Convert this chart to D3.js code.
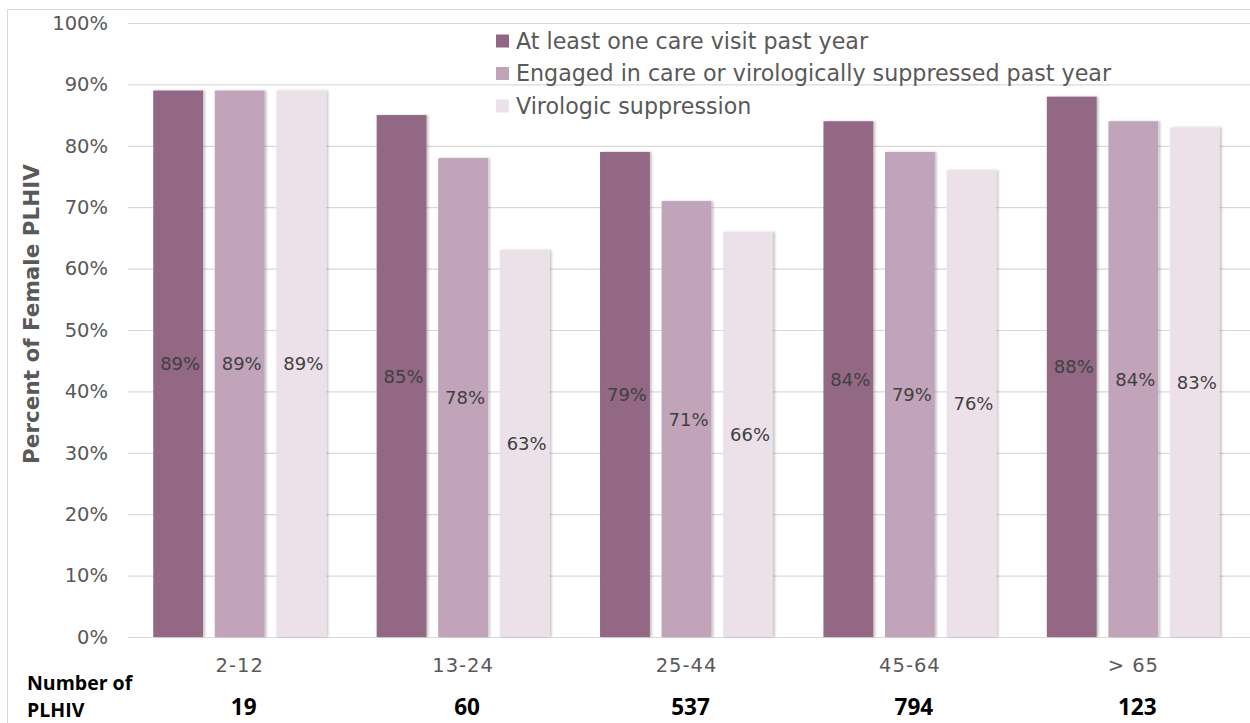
<!DOCTYPE html>
<html>
<head>
<meta charset="utf-8">
<script src="https://cdn.jsdelivr.net/npm/d3@7"></script>
<style>
  html, body { margin: 0; padding: 0; background: #fff; }
  svg { display: block; }
</style>
</head>
<body>
<svg id="chart" width="1250" height="723"></svg>
<script>
// Age groups along the x axis
const categories = ["2-12", "13-24", "25-44", "45-64", "> 65"];
// Number of female PLHIV in each age group
const counts = [19, 60, 537, 794, 123];
// Series names (legend order)
const seriesNames = [
  "At least one care visit past year",
  "Engaged in care or virologically suppressed past year",
  "Virologic suppression"
];
// Percent values per series, one per age group
const careVisit = [89, 85, 79, 84, 88];
const engaged = [89, 78, 71, 79, 84];
const suppression = [89, 63, 66, 76, 83];
const seriesValues = [careVisit, engaged, suppression];
// Y axis ticks
const yTicks = [0, 10, 20, 30, 40, 50, 60, 70, 80, 90, 100];

const colors = ["#926785", "#c1a4b9", "#ece1e9"];
const tickFont = "'DejaVu Sans', sans-serif";
const boldFont = "'Open Sans', 'Liberation Sans', sans-serif";

const svg = d3.select("#chart");

// Thin frame around the chart area
svg.append("rect")
  .attr("x", 7.5).attr("y", 9.5)
  .attr("width", 1250).attr("height", 760)
  .attr("fill", "none").attr("stroke", "#d9d9d9");

const plot = { left: 128, right: 1245, top: 23, bottom: 637, gridEnd: 1250 };

const y = d3.scaleLinear().domain([0, 100]).range([plot.bottom, plot.top]);
const x0 = d3.scaleBand().domain(categories).range([plot.left, plot.right]).padding(0);
const x1 = d3.scaleBand().domain(d3.range(seriesNames.length))
  .range([0, x0.bandwidth()]).paddingInner(0.19).paddingOuter(0.41);

// Drop shadow on the bars
const defs = svg.append("defs");
const f = defs.append("filter").attr("id", "shadow")
  .attr("x", "-20%").attr("y", "-5%").attr("width", "140%").attr("height", "110%");
f.append("feDropShadow").attr("dx", 2).attr("dy", 0)
  .attr("stdDeviation", 1.2).attr("flood-color", "#000").attr("flood-opacity", 0.22);

// Horizontal gridlines + y tick labels
const yAxis = d3.axisLeft(y).tickValues(yTicks)
  .tickSize(-(plot.gridEnd - plot.left)).tickPadding(20)
  .tickFormat(d => d + "%");
const gy = svg.append("g").attr("transform", `translate(${plot.left},0)`).call(yAxis);
gy.select(".domain").remove();
gy.selectAll(".tick line").attr("stroke", "#d9d9d9").attr("stroke-width", 1.2);
gy.selectAll(".tick text")
  .attr("fill", "#595959").attr("font-family", tickFont).attr("font-size", 19.5);

// Legend (drawn before bars, no background)
const legend = svg.append("g");
seriesNames.forEach((name, i) => {
  const ly = 41 + i * 32.5;
  legend.append("rect").attr("x", 496).attr("y", ly - 6.5)
    .attr("width", 13).attr("height", 13).attr("fill", colors[i]);
  legend.append("text").attr("x", 516).attr("y", ly)
    .attr("dy", "0.36em").attr("fill", "#595959")
    .attr("font-family", tickFont).attr("font-size", 22.2)
    .text(name);
});

// Bars
const groups = svg.append("g").selectAll("g")
  .data(categories).join("g")
  .attr("transform", d => `translate(${x0(d)},0)`);

groups.selectAll("rect")
  .data((d, ci) => seriesValues.map((vals, si) => ({ si, v: vals[ci] })))
  .join("rect")
  .attr("x", d => x1(d.si))
  .attr("width", x1.bandwidth())
  .attr("y", d => y(d.v))
  .attr("height", d => y(0) - y(d.v))
  .attr("fill", d => colors[d.si])
  .attr("filter", "url(#shadow)");

// Value labels, centred in each bar
groups.selectAll("text.val")
  .data((d, ci) => seriesValues.map((vals, si) => ({ si, v: vals[ci] })))
  .join("text").attr("class", "val")
  .attr("x", d => x1(d.si) + x1.bandwidth() / 2 + 2)
  .attr("y", d => (y(d.v) + y(0)) / 2)
  .attr("dy", "0.36em")
  .attr("text-anchor", "middle")
  .attr("fill", "#404040")
  .attr("font-family", tickFont).attr("font-size", 18)
  .text(d => d.v + "%");

// Category labels
const xAxis = d3.axisBottom(x0).tickSize(0).tickPadding(21);
const gx = svg.append("g").attr("transform", `translate(0,${plot.bottom})`).call(xAxis);
gx.select(".domain").remove();
gx.selectAll(".tick text")
  .attr("fill", "#595959").attr("font-family", tickFont).attr("font-size", 19.5)
  .attr("letter-spacing", 1);

// Y axis title
svg.append("text")
  .attr("transform", "translate(31,314) rotate(-90)")
  .attr("text-anchor", "middle").attr("dy", "0.36em")
  .attr("fill", "#595959").attr("font-family", tickFont)
  .attr("font-weight", "bold").attr("font-size", 21.5)
  .text("Percent of Female PLHIV");

// Counts row: two-line row heading, then one count per age group
const rowHead = svg.append("text").attr("x", 27).attr("y", 690)
  .attr("fill", "#000").attr("font-family", boldFont)
  .attr("font-weight", "bold").attr("font-size", 19.5);
rowHead.append("tspan").attr("x", 27).text("Number of");
rowHead.append("tspan").attr("x", 27).attr("dy", 27).text("PLHIV");

svg.append("g").selectAll("text")
  .data(categories).join("text")
  .attr("x", d => x0(d) + x0.bandwidth() / 2 + 4)
  .attr("y", 715)
  .attr("text-anchor", "middle")
  .attr("fill", "#000").attr("font-family", boldFont)
  .attr("font-weight", "bold").attr("font-size", 22.5)
  .text((d, i) => counts[i]);
</script>
</body>
</html>
